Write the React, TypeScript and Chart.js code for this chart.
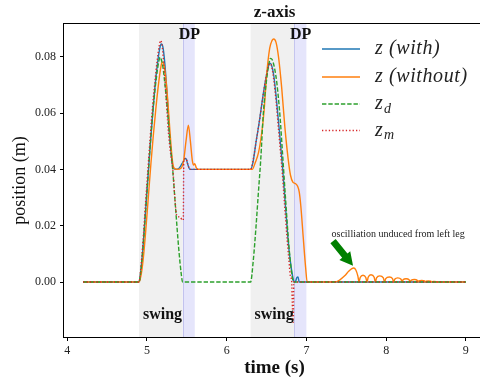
import React, { useEffect, useRef } from 'react';
import { Chart, registerables } from 'chart.js';
Chart.register(...registerables);

// ---- data (time in s, position in m) ----
const withT = [4.2, 4.9, 4.92, 4.95, 4.98, 5.01, 5.04, 5.07, 5.10, 5.13, 5.16, 5.18, 5.20, 5.22, 5.25, 5.28, 5.31, 5.33, 5.36, 5.40, 5.44, 5.47, 5.49, 5.51, 5.54,
  6.30, 6.33, 6.37, 6.41, 6.45, 6.49, 6.52, 6.54, 6.56, 6.59, 6.62, 6.66, 6.70, 6.74, 6.78, 6.81, 6.84, 6.86, 6.88, 6.895, 6.91, 9.0];
const withZ = [0, 0, 0.003, 0.012, 0.024, 0.036, 0.048, 0.059, 0.069, 0.077, 0.0828, 0.0845, 0.0835, 0.079, 0.068, 0.054, 0.044, 0.0405, 0.040, 0.0403, 0.042, 0.0435, 0.0439, 0.042, 0.040,
  0.040, 0.0425, 0.050, 0.057, 0.065, 0.072, 0.0762, 0.0777, 0.0772, 0.0735, 0.066, 0.054, 0.041, 0.026, 0.012, 0.005, 0.0005, 0, 0.0016, 0.0018, 0, 0];

const withoutT = [4.2, 4.9, 4.93, 4.96, 4.99, 5.02, 5.05, 5.08, 5.11, 5.14, 5.17, 5.19, 5.21, 5.23, 5.26, 5.29, 5.32, 5.34, 5.38, 5.43, 5.46, 5.49, 5.52, 5.545, 5.57, 5.585, 5.60, 5.62, 5.64,
  6.32, 6.36, 6.40, 6.44, 6.47, 6.50, 6.54, 6.57, 6.59, 6.62, 6.65, 6.69, 6.73, 6.77, 6.80, 6.83, 6.86, 6.89, 6.91, 6.93, 6.96, 6.99, 7.01];
const withoutZ = [0, 0, 0.003, 0.010, 0.020, 0.031, 0.042, 0.052, 0.061, 0.069, 0.0755, 0.078, 0.0775, 0.074, 0.065, 0.053, 0.043, 0.0405, 0.040, 0.0405, 0.043, 0.050, 0.0557, 0.050, 0.043, 0.0415, 0.042, 0.0405, 0.040,
  0.040, 0.0425, 0.046, 0.053, 0.061, 0.073, 0.083, 0.0858, 0.0863, 0.085, 0.080, 0.069, 0.055, 0.044, 0.038, 0.0355, 0.035, 0.034, 0.032, 0.027, 0.016, 0.0053, 0];

// oscillation of the "without" curve after the second step
const tailT = [7.36, 7.42, 7.48, 7.53, 7.57, 7.595, 7.62, 7.645, 7.66,
  7.675, 7.71, 7.745, 7.76, 7.775, 7.81, 7.85, 7.865, 7.88, 7.92, 7.965, 7.98, 7.995, 8.04, 8.08, 8.095,
  8.108, 8.146, 8.187, 8.2, 8.212, 8.25, 8.288, 8.30, 8.312, 8.355, 8.39, 8.40, 8.41, 8.447, 8.48, 8.49, 8.50, 8.53, 8.56, 8.57, 8.578, 8.60, 8.632, 8.64, 9.0];
const tailZ = [0, 0.0008, 0.0022, 0.0038, 0.0048, 0.0050, 0.0043, 0.0022, 0,
  0.0016, 0.0024, 0.0016, 0, 0.0017, 0.0026, 0.0017, 0, 0.0015, 0.0022, 0.0015, 0, 0.0012, 0.0018, 0.0012, 0,
  0.0010, 0.0015, 0.0010, 0, 0.0008, 0.0012, 0.0008, 0, 0.0006, 0.0009, 0.0006, 0, 0.0004, 0.0006, 0.0004, 0, 0.0003, 0.0004, 0.0003, 0, 0.00013, 0.0002, 0.00013, 0, 0];

const desT = [4.2, 4.9, 4.92, 4.95, 4.98, 5.01, 5.04, 5.07, 5.10, 5.13, 5.15, 5.165, 5.18, 5.20, 5.23, 5.26, 5.29, 5.32, 5.36, 5.40, 5.43, 5.448,
  6.30, 6.334, 6.368, 6.397, 6.427, 6.46, 6.50, 6.53, 6.55, 6.57, 6.60, 6.63, 6.67, 6.70, 6.74, 6.78, 6.81, 6.84, 9.0];
const desZ = [0, 0, 0.003, 0.012, 0.024, 0.036, 0.048, 0.059, 0.068, 0.075, 0.0785, 0.0798, 0.079, 0.0765, 0.069, 0.060, 0.050, 0.041, 0.026, 0.0115, 0.003, 0,
  0, 0.0077, 0.0196, 0.0314, 0.0433, 0.0599, 0.0717, 0.0775, 0.0794, 0.079, 0.076, 0.0705, 0.0585, 0.046, 0.029, 0.013, 0.0045, 0, 0];

const measT = [4.2, 4.9, 4.92, 4.95, 4.98, 5.01, 5.04, 5.07, 5.10, 5.13, 5.155, 5.172, 5.19, 5.21, 5.24, 5.27, 5.30, 5.325, 5.35, 5.373, 5.414, 5.448, 5.456, 5.462, 5.49, 5.51, 5.54,
  6.30, 6.33, 6.37, 6.41, 6.45, 6.49, 6.52, 6.54, 6.56, 6.59, 6.62, 6.66, 6.70, 6.74, 6.78, 6.80, 6.815, 6.825, 6.835, 6.842, 6.85, 9.0];
const measZ = [0, 0, 0.004, 0.014, 0.027, 0.039, 0.051, 0.062, 0.071, 0.079, 0.084, 0.0857, 0.084, 0.078, 0.066, 0.053, 0.045, 0.040, 0.030, 0.0237, 0.0231, 0.022, 0.022, 0.0435, 0.0439, 0.042, 0.040,
  0.040, 0.043, 0.050, 0.057, 0.065, 0.072, 0.0762, 0.0775, 0.077, 0.072, 0.064, 0.051, 0.038, 0.022, 0.008, 0.002, 0.0005, -0.009, -0.0143, 0, 0, 0];

const xTicks = [4, 5, 6, 7, 8, 9];
const yTicks = [0, 0.02, 0.04, 0.06, 0.08];
const xRange = [3.96, 9.24];
const yRange = [-0.0195, 0.0916];
const swingSpans = [[4.9, 5.45], [6.3, 6.85]];
const dpSpans = [[5.45, 5.6], [6.85, 7.0]];
const swingLabelX = [4.95, 6.35];
const swingLabelY = -0.0118;
const dpLabelX = [5.40, 6.795];
const dpLabelY = 0.0877;
const arrowTail = [7.334, 0.0145];
const arrowTip = [7.585, 0.0058];
const noteText = 'oscilliation unduced from left leg';
const noteAt = [7.315, 0.0169];

const SERIF = '"Liberation Serif", "DejaVu Serif", serif';

const pts = (t: number[], z: number[]) => t.map((v, i) => ({ x: v, y: z[i] }));

const decorPlugin = {
  id: 'decor',
  beforeDatasetsDraw(chart: any) {
    const { ctx, chartArea: a, scales } = chart;
    const xs = scales.x;
    ctx.save();
    ctx.beginPath();
    ctx.rect(a.left, a.top, a.right - a.left, a.bottom - a.top);
    ctx.clip();
    ctx.fillStyle = '#f0f0f0';
    swingSpans.forEach(([s, e]) => {
      const x0 = xs.getPixelForValue(s), x1 = xs.getPixelForValue(e);
      ctx.fillRect(x0, a.top, x1 - x0, a.bottom - a.top);
    });
    dpSpans.forEach(([s, e]) => {
      const x0 = xs.getPixelForValue(s), x1 = xs.getPixelForValue(e);
      ctx.fillStyle = '#e5e5fb';
      ctx.fillRect(x0, a.top, x1 - x0, a.bottom - a.top);
      ctx.fillStyle = 'rgba(170,170,230,0.6)';
      ctx.fillRect(Math.round(x0), a.top, 1, a.bottom - a.top);
      ctx.fillStyle = '#f0f0f0';
    });
    ctx.restore();
  },
  afterDraw(chart: any) {
    const { ctx, chartArea: a, scales } = chart;
    const xs = scales.x, ys = scales.y;
    ctx.save();
    // frame
    ctx.strokeStyle = '#000';
    ctx.lineWidth = 1;
    ctx.strokeRect(Math.round(a.left) - 0.5, Math.round(a.top) - 0.5, a.right - a.left + 1, a.bottom - a.top + 1);

    ctx.fillStyle = '#111';
    // title
    ctx.font = `bold 17px ${SERIF}`;
    ctx.textAlign = 'center';
    ctx.textBaseline = 'middle';
    ctx.fillText('z-axis', (a.left + a.right) / 2, 13);
    // x label
    ctx.font = `bold 19px ${SERIF}`;
    ctx.fillText('time (s)', (a.left + a.right) / 2, 368);
    // y label
    ctx.save();
    ctx.translate(20, (a.top + a.bottom) / 2);
    ctx.rotate(-Math.PI / 2);
    ctx.font = `18px ${SERIF}`;
    ctx.fillText('position (m)', 0, 0);
    ctx.restore();

    // span labels
    ctx.font = `bold 16px ${SERIF}`;
    ctx.textAlign = 'left';
    swingLabelX.forEach((x) => ctx.fillText('swing', xs.getPixelForValue(x), ys.getPixelForValue(swingLabelY)));
    dpLabelX.forEach((x) => ctx.fillText('DP', xs.getPixelForValue(x), ys.getPixelForValue(dpLabelY)));

    // annotation
    ctx.font = `10px ${SERIF}`;
    ctx.fillStyle = '#222';
    ctx.fillText(noteText, xs.getPixelForValue(noteAt[0]), ys.getPixelForValue(noteAt[1]));
    const p1x = xs.getPixelForValue(arrowTail[0]), p1y = ys.getPixelForValue(arrowTail[1]);
    const p2x = xs.getPixelForValue(arrowTip[0]), p2y = ys.getPixelForValue(arrowTip[1]);
    const dx = p2x - p1x, dy = p2y - p1y, L = Math.hypot(dx, dy);
    const ux = dx / L, uy = dy / L, nx = -uy, ny = ux;
    const hl = 13, hw = 7, sw = 3.4;
    const bx = p2x - ux * hl, by = p2y - uy * hl;
    ctx.fillStyle = '#008000';
    ctx.beginPath();
    ctx.moveTo(p1x + nx * sw, p1y + ny * sw);
    ctx.lineTo(bx + nx * sw, by + ny * sw);
    ctx.lineTo(bx + nx * hw, by + ny * hw);
    ctx.lineTo(p2x, p2y);
    ctx.lineTo(bx - nx * hw, by - ny * hw);
    ctx.lineTo(bx - nx * sw, by - ny * sw);
    ctx.lineTo(p1x - nx * sw, p1y - ny * sw);
    ctx.closePath();
    ctx.fill();

    // legend
    const rows = [
      { main: 'z (with)', sub: '', color: '#1f77b4', dash: [] as number[], y: 49 },
      { main: 'z (without)', sub: '', color: '#ff7f0e', dash: [] as number[], y: 77 },
      { main: 'z', sub: 'd', color: '#2ca02c', dash: [4.4, 1.9], y: 104 },
      { main: 'z', sub: 'm', color: '#d62728', dash: [1.3, 2.1], y: 130.5 },
    ];
    rows.forEach((r) => {
      ctx.strokeStyle = r.color;
      ctx.lineWidth = 1.4;
      ctx.setLineDash(r.dash);
      ctx.beginPath();
      ctx.moveTo(322, r.y);
      ctx.lineTo(360, r.y);
      ctx.stroke();
      ctx.setLineDash([]);
      ctx.fillStyle = '#222';
      ctx.textAlign = 'left';
      ctx.textBaseline = 'middle';
      ctx.font = `italic 20px ${SERIF}`;
      (ctx as any).letterSpacing = '0.6px';
      ctx.fillText(r.main, 375, r.y);
      if (r.sub) {
        const w = ctx.measureText(r.main).width;
        ctx.font = `italic 14px ${SERIF}`;
        ctx.fillText(r.sub, 375 + w + 0.5, r.y + 5);
      }
      (ctx as any).letterSpacing = '0px';
    });
    ctx.restore();
  },
};

export default function App() {
  const ref = useRef<HTMLCanvasElement | null>(null);
  useEffect(() => {
    document.body.style.margin = '0';
    document.body.style.overflow = 'hidden';
    const canvas = ref.current!;
    const common = { pointRadius: 0, borderWidth: 1.4, cubicInterpolationMode: 'monotone' as const, fill: false };
    const chart = new Chart(canvas, {
      type: 'line',
      data: {
        datasets: [
          { label: 'z (with)', data: pts(withT, withZ), borderColor: '#1f77b4', order: 3, ...common },
          { label: 'z (without)', data: pts(withoutT.concat(tailT), withoutZ.concat(tailZ)), borderColor: '#ff7f0e', order: 2, ...common },
          { label: 'z_d', data: pts(desT, desZ), borderColor: '#2ca02c', borderDash: [4.4, 1.9], order: 1, ...common },
          { label: 'z_m', data: pts(measT, measZ), borderColor: '#d62728', borderDash: [1.3, 2.1], order: 0, ...common },
        ],
      },
      options: {
        responsive: false,
        animation: false,
        events: [],
        layout: { padding: { top: 24, right: 5, left: 0, bottom: 0 } },
        plugins: { legend: { display: false }, title: { display: false }, tooltip: { enabled: false } },
        scales: {
          x: {
            type: 'linear',
            min: xRange[0],
            max: xRange[1],
            afterBuildTicks: (s: any) => { s.ticks = xTicks.map((v) => ({ value: v })); },
            afterFit: (s: any) => { s.height = 44; },
            grid: { display: true, drawOnChartArea: false, drawTicks: true, tickLength: 4, color: '#000' },
            border: { display: false },
            ticks: { font: { family: SERIF, size: 12 }, color: '#222', padding: 3, maxRotation: 0, autoSkip: false, callback: (v: any) => String(v) },
          },
          y: {
            type: 'linear',
            min: yRange[0],
            max: yRange[1],
            afterBuildTicks: (s: any) => { s.ticks = yTicks.map((v) => ({ value: v })); },
            afterFit: (s: any) => { s.width = 64; },
            grid: { display: true, drawOnChartArea: false, drawTicks: true, tickLength: 4, color: '#000' },
            border: { display: false },
            ticks: { font: { family: SERIF, size: 12 }, color: '#222', padding: 4, autoSkip: false, callback: (v: any) => Number(v).toFixed(2) },
          },
        },
      },
      plugins: [decorPlugin],
    });
    return () => chart.destroy();
  }, []);
  return (
    <div style={{ width: 480, height: 381, overflow: 'hidden', position: 'relative' }}>
      <canvas ref={ref} width={490} height={381} style={{ width: 490, height: 381, display: 'block' }} />
    </div>
  );
}
